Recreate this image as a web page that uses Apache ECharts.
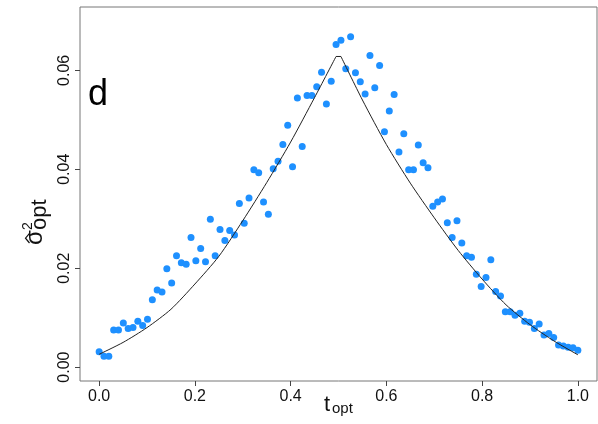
<!DOCTYPE html>
<html><head><meta charset="utf-8">
<script src="https://cdn.jsdelivr.net/npm/echarts@6/dist/echarts.min.js"></script>
<style>html,body{margin:0;padding:0;background:#fff}#c{width:598px;height:424px}</style>
</head><body><div id="c"></div>
<script>
// optimal t values (100 points from 0 to 1)
const tValues = [
0.0000,0.0101,0.0202,0.0303,0.0404,0.0505,0.0606,0.0707,0.0808,0.0909,
0.1010,0.1111,0.1212,0.1313,0.1414,0.1515,0.1616,0.1717,0.1818,0.1919,
0.2020,0.2121,0.2222,0.2323,0.2424,0.2525,0.2626,0.2727,0.2828,0.2929,
0.3030,0.3131,0.3232,0.3333,0.3434,0.3535,0.3636,0.3737,0.3838,0.3939,
0.4040,0.4141,0.4242,0.4343,0.4444,0.4545,0.4646,0.4747,0.4848,0.4949,
0.5051,0.5152,0.5253,0.5354,0.5455,0.5556,0.5657,0.5758,0.5859,0.5960,
0.6061,0.6162,0.6263,0.6364,0.6465,0.6566,0.6667,0.6768,0.6869,0.6970,
0.7071,0.7172,0.7273,0.7374,0.7475,0.7576,0.7677,0.7778,0.7879,0.7980,
0.8081,0.8182,0.8283,0.8384,0.8485,0.8586,0.8687,0.8788,0.8889,0.8990,
0.9091,0.9192,0.9293,0.9394,0.9495,0.9596,0.9697,0.9798,0.9899,1.0000];
// estimated sigma^2_opt (blue points)
const sigmaValues = [
0.0031,0.0022,0.0022,0.0075,0.0075,0.0089,0.0078,0.0080,0.0093,0.0084,
0.0097,0.0136,0.0156,0.0152,0.0199,0.0170,0.0225,0.0211,0.0208,0.0262,
0.0215,0.0240,0.0213,0.0299,0.0225,0.0278,0.0256,0.0276,0.0267,0.0331,
0.0291,0.0342,0.0399,0.0393,0.0334,0.0309,0.0401,0.0416,0.0450,0.0489,
0.0405,0.0544,0.0446,0.0549,0.0549,0.0567,0.0596,0.0532,0.0578,0.0652,
0.0661,0.0603,0.0668,0.0595,0.0577,0.0552,0.0630,0.0565,0.0610,0.0476,
0.0518,0.0551,0.0435,0.0472,0.0399,0.0399,0.0449,0.0413,0.0403,0.0325,
0.0334,0.0340,0.0292,0.0262,0.0296,0.0251,0.0225,0.0222,0.0188,0.0163,
0.0181,0.0217,0.0153,0.0144,0.0112,0.0112,0.0105,0.0109,0.0093,0.0091,
0.0078,0.0087,0.0065,0.0068,0.0060,0.0045,0.0043,0.0040,0.0039,0.0034];
// theoretical curve (black line): rising branch, flat top, falling branch
const curveRiseT = [0,0.05,0.1,0.15,0.2,0.25,0.3,0.35,0.4,0.45,0.4949];
const curveRiseValues = [0.0026,0.0050,0.0080,0.0117,0.0168,0.0224,0.0296,0.0373,0.0455,0.0545,0.0628];
const curveTopT = [0.4949,0.5051];
const curveTopValues = [0.0628,0.0628];
const curveFallT = [0.5051,0.55,0.6,0.65,0.7,0.75,0.8,0.85,0.9,0.95,1.0];
const curveFallValues = [0.0628,0.0540,0.0450,0.0372,0.0302,0.0236,0.0178,0.0126,0.0086,0.0053,0.0025];
const xTicks = [0, 0.2, 0.4, 0.6, 0.8, 1.0];
const yTicks = [0, 0.02, 0.04, 0.06];

const FONT = "'Liberation Sans', Arial, sans-serif";
const lineStyle = {color: '#222', width: 1};
const pairs = (xs, ys) => xs.map((x, i) => [x, ys[i]]);
const chart = echarts.init(document.getElementById('c'), null, {renderer: 'canvas'});
chart.setOption({
  animation: false,
  backgroundColor: '#fff',
  grid: {left: 80, right: 1, top: 7, bottom: 43, show: true, borderColor: '#777', borderWidth: 1, backgroundColor: 'transparent'},
  xAxis: {
    type: 'value', min: -0.04, max: 1.04,
    axisLine: {show: false, onZero: false}, splitLine: {show: false},
    axisTick: {show: true, customValues: xTicks, length: 5, lineStyle: {color: '#444'}},
    axisLabel: {customValues: xTicks, formatter: v => Number(v).toFixed(1), fontSize: 16, color: '#111', fontFamily: FONT, margin: 8}
  },
  yAxis: {
    type: 'value', min: -0.0028, max: 0.0728,
    axisLine: {show: false, onZero: false}, splitLine: {show: false},
    axisTick: {show: true, customValues: yTicks, length: 5, lineStyle: {color: '#444'}},
    axisLabel: {customValues: yTicks, formatter: v => Number(v).toFixed(2), rotate: 90, fontSize: 16, color: '#111', fontFamily: FONT, margin: 7}
  },
  series: [
    {type: 'scatter', data: pairs(tValues, sigmaValues), symbolSize: 7, itemStyle: {color: '#1E90FF', opacity: 1}, z: 2},
    {type: 'line', data: pairs(curveRiseT, curveRiseValues), showSymbol: false, symbol: 'none', smooth: 0.25, lineStyle: lineStyle, z: 3},
    {type: 'line', data: pairs(curveTopT, curveTopValues), showSymbol: false, symbol: 'none', lineStyle: lineStyle, z: 3},
    {type: 'line', data: pairs(curveFallT, curveFallValues), showSymbol: false, symbol: 'none', smooth: 0.25, lineStyle: lineStyle, z: 3}
  ],
  graphic: [
    {type: 'text', x: 88, y: 95, style: {text: 'd', font: "36px 'Liberation Sans', Arial, sans-serif", fill: '#000', verticalAlign: 'middle'}},
    {type: 'text', x: 324, y: 405, style: {text: 't', font: "22px 'Liberation Sans', Arial, sans-serif", fill: '#111', verticalAlign: 'middle'}},
    {type: 'text', x: 332, y: 409, style: {text: 'opt', font: "15px 'Liberation Sans', Arial, sans-serif", fill: '#111', verticalAlign: 'middle'}},
    {type: 'group', x: 44, y: 245, rotation: Math.PI / 2, children: [
      {type: 'text', x: 0, y: -8.4, style: {text: 'σ', font: "24px 'Liberation Sans', Arial, sans-serif", fill: '#111', verticalAlign: 'middle'}},
      {type: 'polyline', shape: {points: [[2, -14.5], [6.8, -18.5], [11.6, -14.5]]}, style: {stroke: '#111', lineWidth: 1.2, fill: null}},
      {type: 'text', x: 15, y: -16, style: {text: '2', font: "14px 'Liberation Sans', Arial, sans-serif", fill: '#111', verticalAlign: 'middle'}},
      {type: 'text', x: 15, y: -4, style: {text: 'opt', font: "22px 'Liberation Sans', Arial, sans-serif", fill: '#111', verticalAlign: 'middle'}}
    ]}
  ]
});
</script>
</body></html>
